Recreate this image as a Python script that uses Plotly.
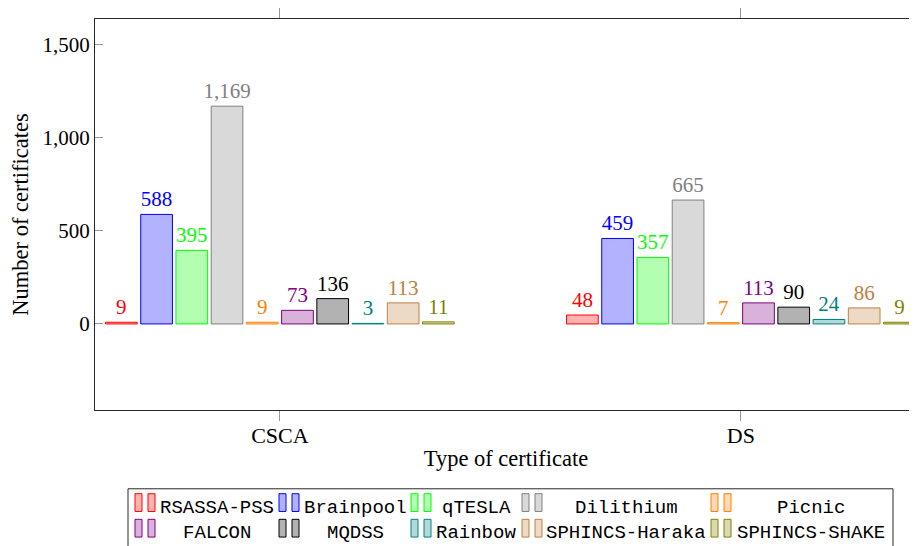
import plotly.graph_objects as go

# data
categories = ["CSCA", "DS"]
series_names = ["RSASSA-PSS", "Brainpool", "qTESLA", "Dilithium", "Picnic",
                "FALCON", "MQDSS", "Rainbow", "SPHINCS-Haraka", "SPHINCS-SHAKE"]
rsassa = [9, 48]
brainpool = [588, 459]
qtesla = [395, 357]
dilithium = [1169, 665]
picnic = [9, 7]
falcon = [73, 113]
mqdss = [136, 90]
rainbow = [3, 24]
haraka = [113, 86]
shake = [11, 9]
values = [rsassa, brainpool, qtesla, dilithium, picnic,
          falcon, mqdss, rainbow, haraka, shake]
y_ticks = [0, 500, 1000, 1500]

# pgfplots-like colours (draw colour, fill = colour!30)
base = [(255, 0, 0), (0, 0, 255), (0, 255, 0), (128, 128, 128), (255, 128, 0),
        (128, 0, 128), (0, 0, 0), (0, 128, 128), (191, 128, 64), (128, 128, 0)]


def rgb(c):
    return "rgb(%d,%d,%d)" % c


def tint(c, f=0.3):
    return tuple(round(f * v + (1 - f) * 255) for v in c)


SERIF = "Liberation Serif"
MONO = "Liberation Mono"

fig = go.Figure()
for name, vals, c in zip(series_names, values, base):
    fig.add_trace(go.Bar(
        x=categories, y=vals, name=name,
        marker=dict(color=rgb(tint(c)), line=dict(color=rgb(c), width=1)),
        texttemplate="%{y:,}", textposition="outside",
        textfont=dict(family=SERIF, size=21, color=rgb(c)),
        constraintext="none", cliponaxis=False, showlegend=False,
    ))

# page has an 8px body margin, so the figure is 8px smaller than the window
OFF = 8
W, H = 917 - OFF, 546 - OFF
L, R, T, B = 95 - OFF, 0, 13 - OFF, 546 - 410


def px_x(p):
    return (p - OFF - L) / (W - L - R)


def px_y(p):
    return (H - B - (p - OFF)) / (H - B - T)


# hand-made legend (pgfplots style, two rows of five)
shapes = [dict(type="rect", xref="paper", yref="paper",
               x0=px_x(128), x1=px_x(893), y0=px_y(600), y1=px_y(490),
               line=dict(color="rgb(40,40,40)", width=1), fillcolor="white", layer="below")]
annotations = []
icon_x = [135, 279, 411, 522, 711]
text_cx = [217, 355, 476, 626, 810.5]
row_y = [504, 530]
for i, (name, c) in enumerate(zip(series_names, base)):
    row, col = divmod(i, 5)
    x0 = icon_x[col]
    for dx in (0, 13):
        shapes.append(dict(type="rect", xref="paper", yref="paper",
                           x0=px_x(x0 + dx), x1=px_x(x0 + dx + 7),
                           y0=px_y(row_y[row] + 9), y1=px_y(row_y[row] - 9),
                           line=dict(color=rgb(c), width=1), fillcolor=rgb(tint(c))))
    annotations.append(dict(xref="paper", yref="paper", x=px_x(text_cx[col]),
                            y=px_y(row_y[row] + 5), text=name, showarrow=False,
                            xanchor="center", yanchor="middle",
                            font=dict(family=MONO, size=19, color="black")))

fig.update_layout(
    width=W, height=H,
    margin=dict(l=L, r=R, t=T, b=B),
    paper_bgcolor="white", plot_bgcolor="white",
    barmode="group", bargap=0.236, bargroupgap=0.1,
    font=dict(family=SERIF, size=21, color="black"),
    shapes=shapes, annotations=annotations,
    xaxis=dict(
        range=[-0.401, 1.382], showgrid=False, zeroline=False,
        showline=True, linecolor="rgb(40,40,40)", linewidth=1, mirror="ticks",
        ticks="outside", ticklen=10, tickcolor="rgb(150,150,150)", tickwidth=1,
        tickfont=dict(family=SERIF, size=22), ticklabelstandoff=-4,
        title=dict(text="Type of certificate", standoff=2,
                   font=dict(family=SERIF, size=22.5)),
    ),
    yaxis=dict(
        range=[-462, 1637], tickvals=y_ticks, tickformat=",",
        showgrid=False, zeroline=False,
        showline=True, linecolor="rgb(40,40,40)", linewidth=1, mirror=False,
        ticks="inside", ticklen=8, tickcolor="rgb(150,150,150)", tickwidth=1,
        tickfont=dict(family=SERIF, size=21),
        title=dict(text="Number of certificates", standoff=12,
                   font=dict(family=SERIF, size=22.5)),
    ),
)

fig.write_html("out.html")
